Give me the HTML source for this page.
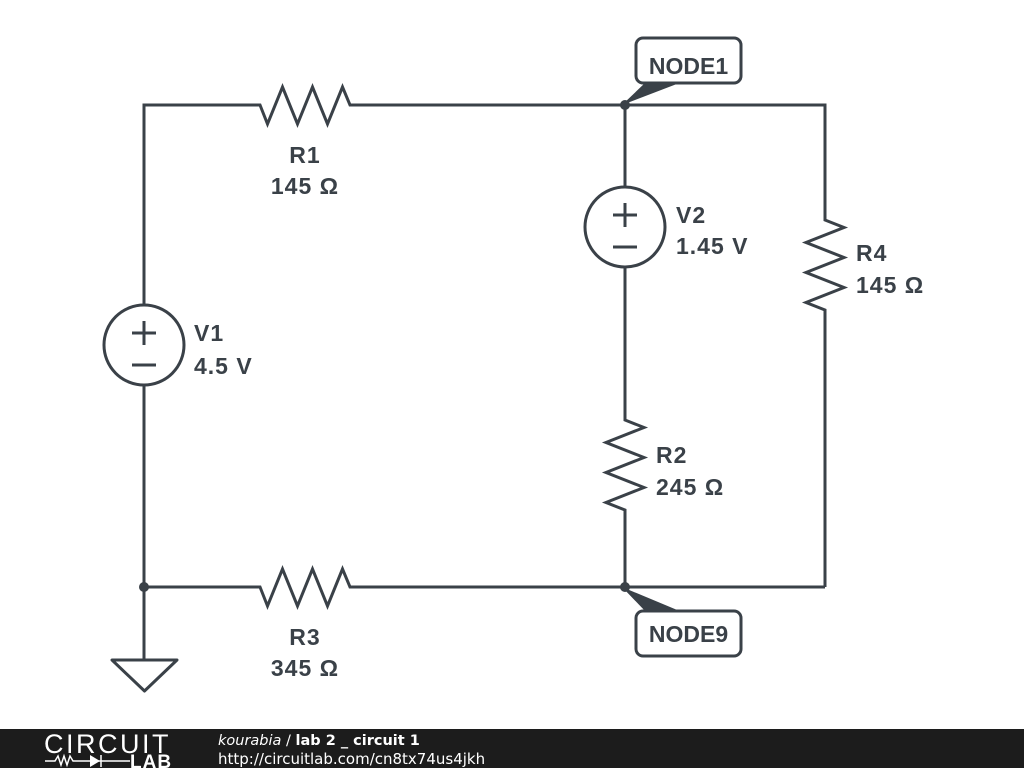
<!DOCTYPE html>
<html><head><meta charset="utf-8"><style>
html,body{margin:0;padding:0;background:#fff;}
svg{display:block}
text{font-family:"Liberation Sans",sans-serif;font-weight:bold;fill:#3a4148}
.lb{font-size:23px;letter-spacing:1px}
</style></head><body>
<svg width="1024" height="768" viewBox="0 0 1024 768" xmlns="http://www.w3.org/2000/svg">
<g stroke="#3a4148" stroke-width="3" fill="none" stroke-linejoin="miter">
<polyline points="144,305 144,105 260,105 267.5,124 282.5,87 297.5,124 312.5,87 327.5,124 342.5,87 350,105 825,105 825,220 844,227.5 806,242.5 844,257.5 806,272.5 844,287.5 806,302.5 825,310 825,587"/>
<polyline points="144,385 144,660"/>
<polyline points="144,587 260,587 267.5,606 282.5,569 297.5,606 312.5,569 327.5,606 342.5,569 350,587 825,587"/>
<polyline points="625,105 625,187"/>
<polyline points="625,267 625,420 644,427.5 606,442.5 644,457.5 606,472.5 644,487.5 606,502.5 625,510 625,587"/>
<circle cx="144" cy="345" r="40"/>
<circle cx="625" cy="227" r="40"/>
<path d="M132,333h24M144,321v24M132,365h24"/>
<path d="M613,215h24M625,203v24M613,247h24"/>
<polygon points="112,660 177,660 144.5,691" stroke-linejoin="round"/>
<rect x="636" y="38" width="105" height="45" rx="7"/>
<rect x="636" y="611" width="105" height="45" rx="7"/>
</g>
<g fill="#3a4148">
<circle cx="625" cy="105" r="5"/>
<circle cx="144" cy="587" r="5"/>
<circle cx="625" cy="587" r="5"/>
<polygon points="622,105 646,82 682,82"/>
<polygon points="622,587 646,612 682,612"/>
</g>
<text x="305" y="163" class="lb" text-anchor="middle">R1</text>
<text x="305" y="194" class="lb" text-anchor="middle">145 Ω</text>
<text x="305" y="645" class="lb" text-anchor="middle">R3</text>
<text x="305" y="676" class="lb" text-anchor="middle">345 Ω</text>
<text x="194" y="341" class="lb">V1</text>
<text x="194" y="374" class="lb">4.5 V</text>
<text x="676" y="223" class="lb">V2</text>
<text x="676" y="254" class="lb">1.45 V</text>
<text x="856" y="261" class="lb">R4</text>
<text x="856" y="293" class="lb">145 Ω</text>
<text x="656" y="463" class="lb">R2</text>
<text x="656" y="495" class="lb">245 Ω</text>
<text x="688.5" y="74" font-size="23" text-anchor="middle">NODE1</text>
<text x="688.5" y="642" font-size="23" text-anchor="middle">NODE9</text>
<rect x="0" y="729" width="1024" height="39" fill="#1c1c1c"/>
<text x="44" y="753" font-size="27" style="font-weight:normal;fill:#fff;letter-spacing:2.5px">CIRCUIT</text>
<g stroke="#fff" stroke-width="1.5" fill="none">
<polyline points="45,761 55,761 58,756 61,765 64,756 67,765 70,756 73,761 82,761"/>
<line x1="82" y1="761" x2="130" y2="761"/>
<line x1="101" y1="755" x2="101" y2="767"/>
</g>
<polygon points="90,755 100,761 90,767" fill="#fff"/>
<text x="130" y="768" font-size="19" style="fill:#fff;letter-spacing:1px">LAB</text>
<text x="218" y="745" font-size="14.5" style="fill:#fff;font-weight:normal;font-family:'DejaVu Sans',sans-serif"><tspan font-style="italic">kourabia</tspan> / <tspan font-weight="bold">lab 2 _ circuit 1</tspan></text>
<text x="218" y="764" font-size="15" style="fill:#fff;font-weight:normal;font-family:'DejaVu Sans',sans-serif">http://circuitlab.com/cn8tx74us4jkh</text>
</svg>
</body></html>
